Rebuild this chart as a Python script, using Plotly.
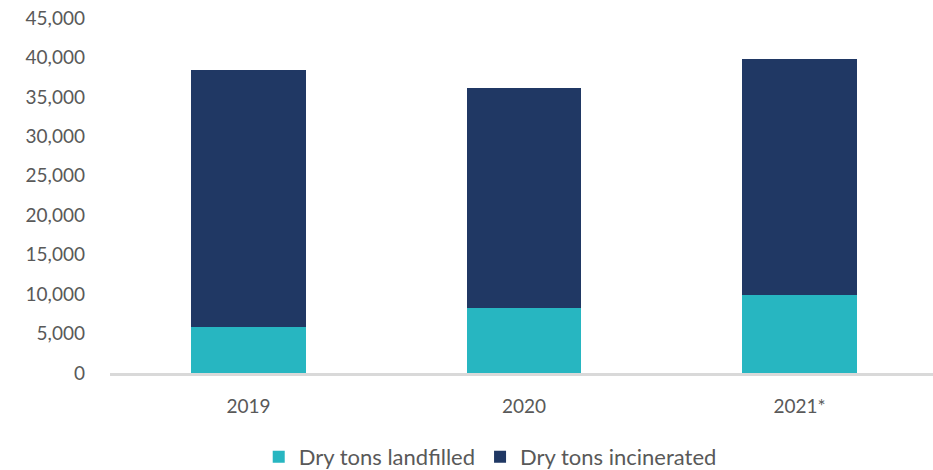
import plotly.graph_objects as go

years = ["2019", "2020", "2021*"]
landfilled = [5800, 8250, 9900]
incinerated = [32600, 27850, 29850]

teal = "#27B6C1"
navy = "#203864"
gray = "#595959"

fig = go.Figure()
fig.add_trace(go.Bar(x=years, y=landfilled, name="Dry tons landfilled",
                     marker=dict(color=teal, line=dict(width=0))))
fig.add_trace(go.Bar(x=years, y=incinerated, name="Dry tons incinerated",
                     marker=dict(color=navy, line=dict(width=0))))

fig.update_layout(
    width=933, height=470,
    margin=dict(l=110, r=0, t=18, b=97, autoexpand=False),
    barmode="stack",
    bargap=0.583,
    plot_bgcolor="white", paper_bgcolor="white",
    font=dict(family="Lato", size=19, color=gray),
    showlegend=True,
    legend=dict(orientation="h", x=0.462, xanchor="center",
                yref="container", y=13 / 470, yanchor="middle",
                traceorder="normal", font=dict(size=22, color=gray), itemwidth=30),
    xaxis=dict(range=[-0.5027, 2.4846], showline=True, linecolor="#D9D9D9", linewidth=2.5,
               ticks="", showgrid=False, ticklabelstandoff=14, tickfont=dict(size=19),
               automargin=False),
    yaxis=dict(range=[0, 45000], tickvals=list(range(0, 45001, 5000)), tickformat=",d",
               showgrid=False, zeroline=False, showline=False, ticks="",
               ticklabelstandoff=24, tickfont=dict(size=19), automargin=False),
)
fig.add_annotation(text="<b>S</b>", xref="paper", yref="paper", x=-110/823 - 0.012, y=-0.24,
                   xanchor="center", yanchor="middle", showarrow=False,
                   font=dict(size=30, color="#1F4E79", family="Lato"))

fig.write_html("out.html")
